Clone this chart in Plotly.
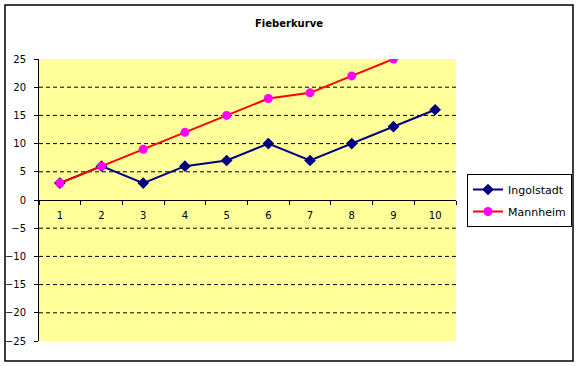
import plotly.graph_objects as go

categories = ["1", "2", "3", "4", "5", "6", "7", "8", "9", "10"]
ingolstadt = [3, 6, 3, 6, 7, 10, 7, 10, 13, 16]
mannheim = [3, 6, 9, 12, 15, 18, 19, 22, 25, 28]
y_ticks = [25, 20, 15, 10, 5, 0, -5, -10, -15, -20, -25]
grid_vals = [20, 15, 10, 5, -5, -10, -15, -20]

W, H = 578, 366
L, R, T, B = 39, 122, 59, 25
pw, ph = W - L - R, H - T - B

font = dict(family="DejaVu Sans, Verdana, sans-serif", size=10, color="black")

fig = go.Figure()
fig.add_trace(go.Scatter(x=categories, y=ingolstadt, name="Ingolstadt", mode="lines+markers",
                         legendgroup="a",
                         line=dict(color="#000080", width=2),
                         marker=dict(symbol="diamond", size=9, color="#000080")))
fig.add_trace(go.Scatter(x=categories, y=mannheim, name="Mannheim", mode="lines+markers",
                         legendgroup="b",
                         line=dict(color="#FF0000", width=2),
                         marker=dict(symbol="circle", size=9, color="#FF00FF")))

shapes = []
for g in grid_vals:
    shapes.append(dict(type="line", xref="paper", yref="y", x0=0, x1=1, y0=g, y1=g,
                       line=dict(color="black", width=1, dash="4px,3px"), layer="below"))
# outer chart border
shapes.append(dict(type="rect", xref="paper", yref="paper",
                   x0=(5 - L) / pw, x1=(573 - L) / pw,
                   y0=(H - B - 361) / ph, y1=(H - B - 5) / ph,
                   line=dict(color="black", width=1.5), fillcolor="rgba(0,0,0,0)"))

fig.update_layout(
    width=W, height=H,
    margin=dict(l=L, r=R, t=T, b=B, autoexpand=False),
    paper_bgcolor="white", plot_bgcolor="#FFFF99",
    font=font,
    title=dict(text="<b>Fieberkurve</b>", x=(289 - L) / pw, xref="paper", xanchor="center",
               y=1 - 23 / H, yanchor="middle", font=dict(size=10)),
    showlegend=True,
    legend=dict(x=(467 - L) / pw, y=(H - B - 174) / ph, xanchor="left", yanchor="top",
                bordercolor="black", borderwidth=1, bgcolor="white",
                font=dict(size=11), tracegroupgap=3),
    shapes=shapes,
    xaxis=dict(type="category", categoryorder="array", categoryarray=categories,
               range=[-0.5, 9.5], anchor="free", position=0.5, automargin=False,
               showline=True, linecolor="black", linewidth=1,
               ticks="outside", ticklen=4, tickcolor="black", tickson="boundaries",
               showgrid=False, zeroline=False, ticklabelstandoff=6),
    yaxis=dict(range=[-25, 25], tickvals=y_ticks, showline=True, linecolor="black",
               linewidth=1, ticks="outside", ticklen=4, tickcolor="black", automargin=False,
               showgrid=False, zeroline=False, ticklabelstandoff=6),
)

fig.write_html("out.html", config={"displayModeBar": False},
               post_script="document.body.style.margin='0';")
